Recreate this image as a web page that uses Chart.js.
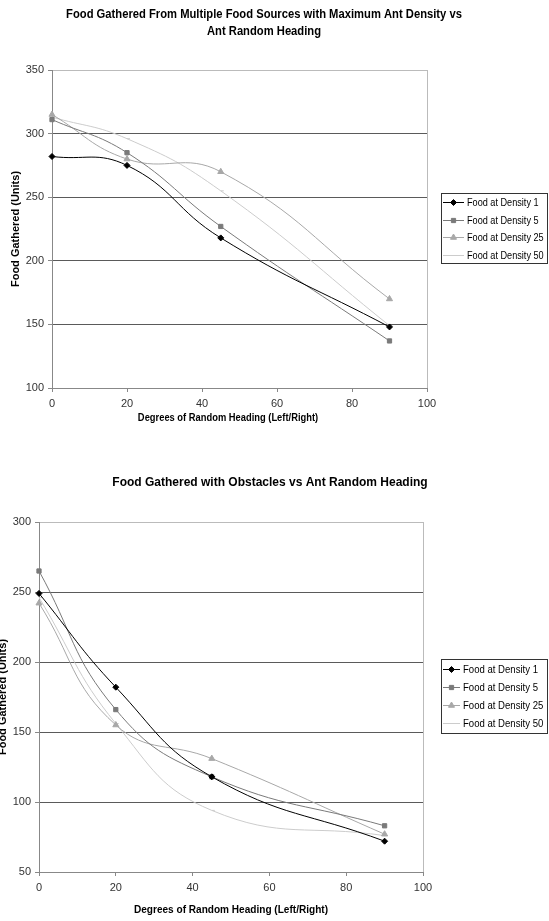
<!DOCTYPE html>
<html>
<head>
<meta charset="utf-8">
<script src="https://cdn.jsdelivr.net/npm/chart.js@4.4.0/dist/chart.umd.min.js"></script>
<style>
  html, body { margin: 0; padding: 0; background: #fff; overflow: hidden; }
  body { width: 549px; height: 921px; position: relative; }
  .wrap { position: absolute; }
</style>
</head>
<body>
<div class="wrap" style="left:0;top:0;width:549px;height:460px"><canvas id="sourcesChart"></canvas></div>
<div class="wrap" style="left:-10px;top:460px;width:559px;height:461px"><canvas id="obstaclesChart"></canvas></div>
<script>
// degrees of random heading tested
var headings = [0, 20, 45, 90];
var densityNames = ['Food at Density 1', 'Food at Density 5', 'Food at Density 25', 'Food at Density 50'];

// multiple food sources, maximum ant density
var sources1 = [282, 275, 218, 148];
var sources5 = [311, 285, 227, 137];
var sources25 = [315, 280, 270, 170];
var sources50 = [313, 296, 255, 149];

// obstacles
var obstacles1 = [249, 182, 118, 72];
var obstacles5 = [265, 166, 118, 83];
var obstacles25 = [242, 155, 131, 77];
var obstacles50 = [246, 156, 94, 76];

var FONT = '"Liberation Sans", Arial, sans-serif';
Chart.defaults.font.family = FONT;
Chart.defaults.font.size = 11;
Chart.defaults.color = '#333';

var lineColors = ['#000000', '#7a7a7a', '#a8a8a8', '#cccccc'];
var markers = ['rectRot', 'rect', 'triangle', 'dash'];
var markerSizes = [3, 3, 3.5, 3];

function makeDatasets(seriesList) {
  return seriesList.map(function (vals, i) {
    return {
      label: densityNames[i],
      data: headings.map(function (h, j) { return { x: h, y: vals[j] }; }),
      borderColor: lineColors[i],
      backgroundColor: lineColors[i],
      pointBackgroundColor: lineColors[i],
      pointBorderColor: lineColors[i],
      pointStyle: markers[i],
      pointRadius: markerSizes[i],
      pointBorderWidth: 1,
      borderWidth: 1,
      tension: 0.45,
      clip: false
    };
  });
}

// text drawn a little condensed, like the old spreadsheet export
function squeezeText(ctx, text, x, y, sx) {
  ctx.save();
  ctx.translate(x, y);
  ctx.scale(sx, 1);
  ctx.fillText(text, 0, 0);
  ctx.restore();
}

// heading, x-axis caption and boxed legend
var chartDecor = {
  id: 'chartDecor',
  afterDraw: function (chart, args, opts) {
    var ctx = chart.ctx;
    ctx.save();
    ctx.fillStyle = '#000';
    ctx.font = 'bold 12px ' + FONT;
    ctx.textAlign = 'center';
    ctx.textBaseline = 'middle';
    opts.title.forEach(function (line, i) {
      squeezeText(ctx, line, opts.titleX, opts.titleY + i * 17, opts.titleSqueeze);
    });

    ctx.font = 'bold 11px ' + FONT;
    squeezeText(ctx, opts.xCaption, opts.xCaptionX, opts.xCaptionY, opts.xCaptionSqueeze);

    var lg = opts.legend;
    ctx.strokeStyle = '#333';
    ctx.lineWidth = 1;
    ctx.strokeRect(lg.x + 0.5, lg.y + 0.5, lg.w, lg.h);
    ctx.font = '11px ' + FONT;
    ctx.textAlign = 'left';
    chart.data.datasets.forEach(function (ds, i) {
      var y = Math.round(lg.y + lg.first + i * lg.row) + 0.5;
      ctx.strokeStyle = ds.borderColor;
      ctx.beginPath();
      ctx.moveTo(lg.x + 2, y);
      ctx.lineTo(lg.x + 2 + lg.lineLen, y);
      ctx.stroke();
      ctx.fillStyle = ds.pointBackgroundColor;
      Chart.helpers.drawPoint(ctx, { pointStyle: ds.pointStyle, radius: ds.pointRadius, borderWidth: 1 },
        lg.x + 2 + lg.lineLen / 2, y);
      ctx.fillStyle = '#000';
      squeezeText(ctx, ds.label, lg.x + lg.textOffset, y, lg.squeeze);
    });
    ctx.restore();
  }
};

function makeChart(id, seriesList, yMin, yMax, box) {
  return new Chart(id, {
    type: 'line',
    data: { datasets: makeDatasets(seriesList) },
    plugins: [chartDecor],
    options: {
      responsive: true,
      maintainAspectRatio: false,
      animation: false,
      layout: { padding: { left: 0, right: box.padRight, top: box.padTop, bottom: 0 } },
      plugins: {
        legend: { display: false },
        title: { display: false },
        tooltip: { enabled: false },
        chartDecor: box.decor
      },
      scales: {
        x: {
          type: 'linear',
          min: 0,
          max: 100,
          ticks: { stepSize: 20, padding: 5, color: '#333' },
          grid: {
            color: function (c) { return c.tick && c.tick.value === 100 ? '#bbbbbb' : 'rgba(0,0,0,0)'; },
            tickColor: '#888',
            tickLength: 4
          },
          border: { color: '#888' },
          afterFit: function (s) { s.height = box.xHeight; }
        },
        y: {
          min: yMin,
          max: yMax,
          ticks: { stepSize: 50, padding: 4, color: '#333' },
          grid: {
            color: function (c) {
              if (!c.tick) return '#5a5a5a';
              if (c.tick.value === yMax) return '#bbbbbb';
              if (c.tick.value === yMin) return '#888';
              return '#5a5a5a';
            },
            tickColor: '#888',
            tickLength: 4
          },
          border: { color: '#888' },
          title: {
            display: true,
            text: 'Food Gathered (Units)',
            color: '#000',
            font: { weight: 'bold', size: 11 },
            padding: { top: box.yTitlePad, bottom: 0 }
          },
          afterFit: function (s) { s.width = box.yWidth; }
        }
      }
    }
  });
}

var xCaption = 'Degrees of Random Heading (Left/Right)';

makeChart('sourcesChart', [sources1, sources5, sources25, sources50], 100, 350, {
  padRight: 122, padTop: 70, xHeight: 72, yWidth: 52, yTitlePad: 9,
  decor: {
    title: ['Food Gathered From Multiple Food Sources with Maximum Ant Density vs', 'Ant Random Heading'],
    titleX: 264, titleY: 15, titleSqueeze: 0.935,
    xCaption: xCaption, xCaptionX: 228, xCaptionY: 418, xCaptionSqueeze: 0.85,
    legend: { x: 441, y: 193, w: 106, h: 70, first: 9, row: 17.7, lineLen: 21, textOffset: 26, squeeze: 0.83 }
  }
});

makeChart('obstaclesChart', [obstacles1, obstacles5, obstacles25, obstacles50], 50, 300, {
  padRight: 126, padTop: 62, xHeight: 49, yWidth: 49, yTitlePad: 6,
  decor: {
    title: ['Food Gathered with Obstacles vs Ant Random Heading'],
    titleX: 280, titleY: 23, titleSqueeze: 1,
    xCaption: xCaption, xCaptionX: 241, xCaptionY: 450, xCaptionSqueeze: 0.915,
    legend: { x: 451, y: 199, w: 106, h: 74, first: 10, row: 18, lineLen: 17, textOffset: 22, squeeze: 0.87 }
  }
});
</script>
</body>
</html>
